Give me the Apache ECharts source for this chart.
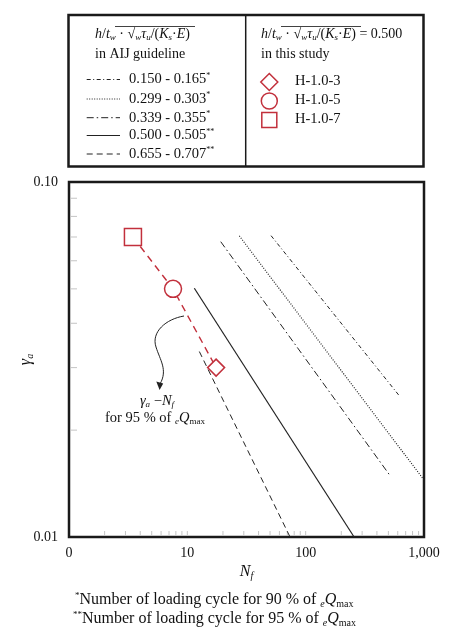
<!DOCTYPE html>
<html>
<head>
<meta charset="utf-8">
<script src="https://cdn.jsdelivr.net/npm/echarts@6/dist/echarts.min.js"></script>
<style>
html, body { margin: 0; padding: 0; background: #fff; }
#main { width: 455px; height: 637px; }
</style>
</head>
<body>
<div id="main"></div>
<script>
// data
var studyNames = ['H-1.0-7', 'H-1.0-5', 'H-1.0-3'];
var studySymbols = ['rect', 'circle', 'diamond'];
var studyN = [3.47, 7.57, 17.5];
var studyGamma = [0.070, 0.050, 0.030];

var aijLabels = ['0.150 - 0.165', '0.299 - 0.303', '0.339 - 0.355', '0.500 - 0.505', '0.655 - 0.707'];
var aijMarks = ['*', '*', '*', '**', '**'];
var aijN = [[51.0, 612], [27.5, 1000], [19.15, 507], [11.46, 256.6], [12.63, 73.8]];
var aijGamma = [[0.0706, 0.0251], [0.0705, 0.01447], [0.0679, 0.01502], [0.0502, 0.01], [0.0333, 0.01]];
var aijDash = [[4, 2.5, 1, 2.5], [1, 1.5], [7, 3, 1.5, 3], 'solid', [6, 4]];

var xMinorTicks = [2, 3, 4, 5, 6, 7, 8, 9, 10, 20, 30, 40, 50, 60, 70, 80, 90, 100, 200, 300, 400, 500, 600, 700, 800, 900];
var yMinorTicks = [0.02, 0.03, 0.04, 0.05, 0.06, 0.07, 0.08, 0.09];

var RED = '#c2303c';
var FONT = 'Liberation Serif';

var myChart = echarts.init(document.getElementById('main'));

function makeRich(fs) {
  var sub = Math.round(fs * 0.64);
  return {
    i: { fontStyle: 'italic', fontFamily: FONT, fontSize: fs },
    s: { fontStyle: 'italic', fontFamily: FONT, fontSize: sub, padding: [Math.round(fs * 0.5), 0, 0, 0] },
    m: { fontFamily: FONT, fontSize: sub, padding: [Math.round(fs * 0.5), 0, 0, 0] },
    sup: { fontFamily: FONT, fontSize: Math.round(fs * 0.58), padding: [0, 0, Math.round(fs * 0.58), 0] }
  };
}
var rich = makeRich(14);
var rich15 = makeRich(14.5);
var rich16 = makeRich(16);

function txt(x, y, text, align, fs, r) {
  return {
    type: 'text',
    silent: true,
    style: {
      x: x, y: y, text: text, fill: '#111',
      fontFamily: FONT, fontSize: fs || 14,
      align: align || 'left', verticalAlign: 'middle',
      rich: r || rich
    }
  };
}

var param = '{i|h}/{i|t}{s|w} · √{s|w}{i|τ}{s|u}/({i|K}{s|s}·{i|E})';

var graphics = [
  { type: 'rect', silent: true, shape: { x: 68.5, y: 15, width: 355, height: 151.5 },
    style: { fill: 'none', stroke: '#1a1a1a', lineWidth: 2.5 } },
  { type: 'line', silent: true, shape: { x1: 245.7, y1: 15, x2: 245.7, y2: 166.5 },
    style: { stroke: '#1a1a1a', lineWidth: 1.5 } },
  txt(95, 34, param),
  { type: 'line', silent: true, shape: { x1: 115, y1: 26.5, x2: 195, y2: 26.5 }, style: { stroke: '#111', lineWidth: 0.8 } },
  txt(95, 54, 'in AIJ guideline'),
  txt(261, 34, param + ' = 0.500'),
  { type: 'line', silent: true, shape: { x1: 281, y1: 26.5, x2: 361, y2: 26.5 }, style: { stroke: '#111', lineWidth: 0.8 } },
  txt(261, 54, 'in this study')
];

var rowY = [79.5, 99, 117.7, 135.5, 154];
aijLabels.forEach(function (lab, k) {
  graphics.push({
    type: 'line', silent: true,
    shape: { x1: 86.7, y1: rowY[k], x2: 120, y2: rowY[k] },
    style: { stroke: '#222', lineWidth: 1, lineDash: aijDash[k] === 'solid' ? null : aijDash[k] }
  });
  graphics.push(txt(129, rowY[k], lab + '{sup|' + aijMarks[k] + '}', 'left', 14.5, rich15));
});

var legY = [82, 101, 120];
var legOrder = [2, 1, 0];
legOrder.forEach(function (idx, k) {
  var y = legY[k], x = 269.3, sym = studySymbols[idx], el;
  if (sym === 'diamond') {
    el = { type: 'polygon', shape: { points: [[x, y - 8.5], [x + 8.5, y], [x, y + 8.5], [x - 8.5, y]] } };
  } else if (sym === 'circle') {
    el = { type: 'circle', shape: { cx: x, cy: y, r: 8 } };
  } else {
    el = { type: 'rect', shape: { x: x - 7.5, y: y - 7.5, width: 15, height: 15 } };
  }
  el.silent = true;
  el.style = { fill: 'none', stroke: RED, lineWidth: 1.5 };
  graphics.push(el);
  graphics.push(txt(295, y - 1, studyNames[idx], 'left', 14.5, rich15));
});

// annotation arrow
graphics.push({
  type: 'bezierCurve', silent: true,
  shape: { x1: 184, y1: 316, cpx1: 166, cpy1: 319, cpx2: 151, cpy2: 332, x2: 156, y2: 347 },
  style: { fill: 'none', stroke: '#222', lineWidth: 1 }
});
graphics.push({
  type: 'bezierCurve', silent: true,
  shape: { x1: 156, y1: 347, cpx1: 160, cpy1: 360, cpx2: 168, cpy2: 370, x2: 160, y2: 384 },
  style: { fill: 'none', stroke: '#222', lineWidth: 1 }
});
graphics.push({
  type: 'polygon', silent: true,
  shape: { points: [[156.3, 381.5], [163.2, 383.5], [159.6, 390]] },
  style: { fill: '#222' }
});
graphics.push(txt(157, 401, '{i|γ}{s|a} −{i|N}{s|f}', 'center', 14.5, rich15));
graphics.push(txt(155, 418, 'for 95 % of {s|e}{i|Q}{m|max}', 'center', 14.5, rich15));

// footnotes
graphics.push(txt(75, 600, '{sup|*}Number of loading cycle for 90 % of {s|e}{i|Q}{m|max}', 'left', 16, rich16));
graphics.push(txt(73, 619, '{sup|**}Number of loading cycle for 95 % of {s|e}{i|Q}{m|max}', 'left', 16, rich16));

var series = [];
aijLabels.forEach(function (lab, k) {
  series.push({
    name: lab,
    type: 'line',
    symbol: 'none',
    silent: true,
    data: [[aijN[k][0], aijGamma[k][0]], [aijN[k][1], aijGamma[k][1]]],
    lineStyle: { color: '#222', width: k === 3 ? 1.2 : (k === 1 ? 1.2 : 1), type: aijDash[k] }
  });
});

series.push({
  name: 'this study',
  type: 'line',
  silent: true,
  z: 5,
  data: studyN.map(function (n, i) {
    return { value: [n, studyGamma[i]], symbol: studySymbols[i], symbolSize: 17 };
  }),
  showAllSymbol: true,
  lineStyle: { color: RED, width: 1.4, type: [7, 5] },
  itemStyle: { color: '#fff', borderColor: RED, borderWidth: 1.5 }
});

series.push({
  type: 'custom',
  silent: true,
  data: xMinorTicks.map(function (v) { return [v, 0.01]; }),
  renderItem: function (params, api) {
    var p = api.coord([api.value(0), api.value(1)]);
    return { type: 'line', shape: { x1: p[0], y1: p[1] - 1, x2: p[0], y2: p[1] - 6 }, style: { stroke: '#c4c4c4', lineWidth: 1 } };
  }
});
series.push({
  type: 'custom',
  silent: true,
  data: yMinorTicks.map(function (v) { return [1, v]; }),
  renderItem: function (params, api) {
    var p = api.coord([api.value(0), api.value(1)]);
    return { type: 'line', shape: { x1: p[0] + 1, y1: p[1], x2: p[0] + 8, y2: p[1] }, style: { stroke: '#c4c4c4', lineWidth: 1 } };
  }
});

myChart.setOption({
  animation: false,
  backgroundColor: '#fff',
  grid: {
    left: 69, right: 31, top: 182, bottom: 100, containLabel: false, outerBoundsMode: 'none',
    show: true, borderColor: '#1a1a1a', borderWidth: 2.5, backgroundColor: 'transparent'
  },
  xAxis: {
    type: 'log', logBase: 10, min: 1, max: 1000,
    name: '{i|N}{s|f}', nameLocation: 'middle', nameGap: 26, nameMoveOverlap: false,
    nameTextStyle: { fontFamily: FONT, fontSize: 16, color: '#111', rich: rich16 },
    axisLine: { show: false }, axisTick: { show: false }, splitLine: { show: false },
    axisLabel: {
      fontFamily: FONT, fontSize: 14, color: '#111', margin: 9,
      formatter: function (v) { return v <= 1 ? '0' : Math.round(v).toLocaleString('en-US'); }
    }
  },
  yAxis: {
    type: 'log', logBase: 10, min: 0.01, max: 0.1,
    name: '{i|γ}{s|a}', nameLocation: 'middle', nameGap: 34, nameMoveOverlap: false,
    nameTextStyle: { fontFamily: FONT, fontSize: 16, color: '#111', rich: rich16 },
    axisLine: { show: false }, axisTick: { show: false }, splitLine: { show: false },
    axisLabel: {
      fontFamily: FONT, fontSize: 14, color: '#111', margin: 11,
      formatter: function (v) { return v.toFixed(2); }
    }
  },
  series: series,
  graphic: graphics
});
</script>
</body>
</html>
